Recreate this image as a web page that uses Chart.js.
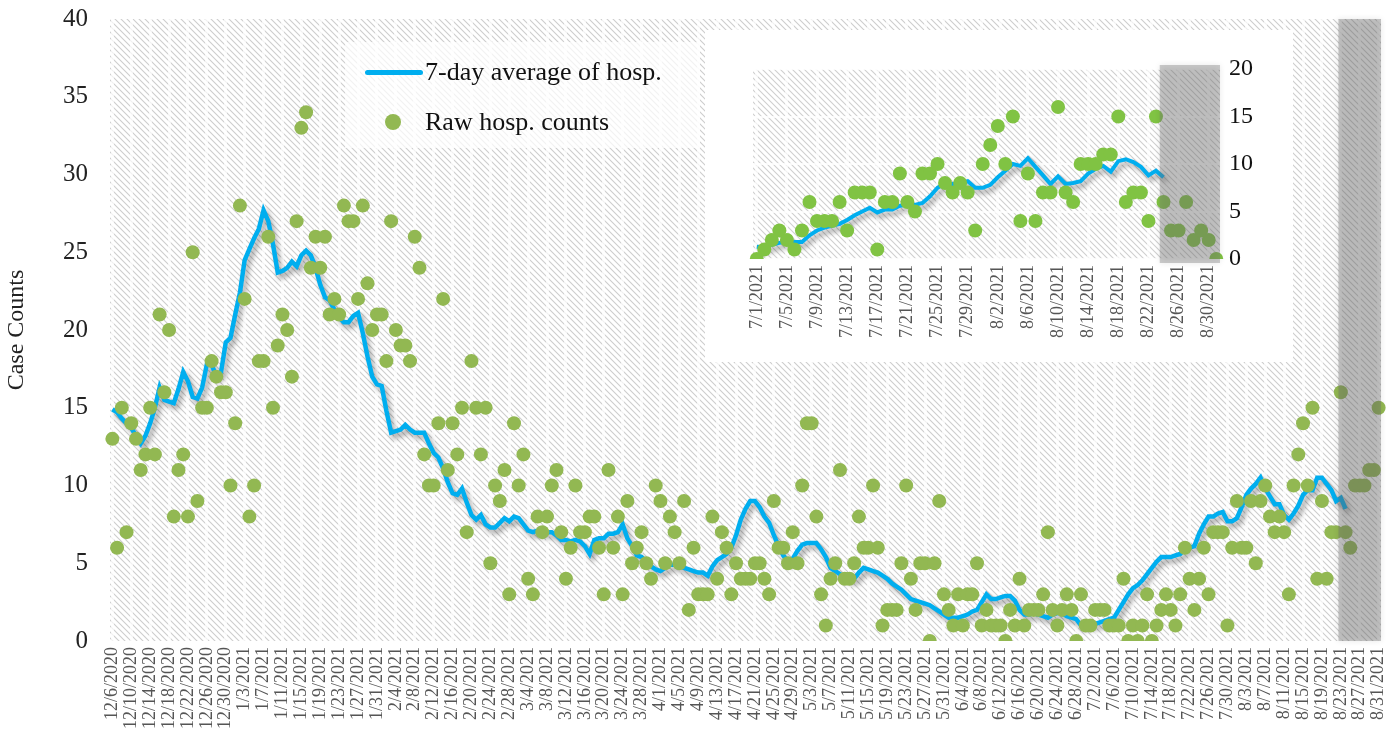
<!DOCTYPE html>
<html>
<head>
<meta charset="utf-8">
<script src="https://cdn.jsdelivr.net/npm/chart.js@4.4.1/dist/chart.umd.min.js"></script>
<style>
  html, body { margin: 0; padding: 0; background: #fff; }
  #wrap { position: relative; width: 1398px; height: 738px; overflow: hidden; font-family: "Liberation Serif", "DejaVu Serif", serif; }
  #mainChart { position: absolute; left: 0; top: 0; }
  #insetBox { position: absolute; left: 705px; top: 30px; width: 588px; height: 332px; background: #fff; }
  #legend { position: absolute; left: 345px; top: 42px; width: 355px; height: 106px; background: rgba(255,255,255,0.72); }
  .lg-line { position: absolute; left: 20px; top: 28px; width: 58px; height: 5px; border-radius: 3px; background: #00aeef; }
  .lg-dot { position: absolute; left: 40px; top: 72px; width: 16px; height: 16px; border-radius: 50%; background: #92b852; }
  .lg-text { position: absolute; left: 80px; font-size: 26px; line-height: 30px; color: #111; white-space: nowrap; }
</style>
</head>
<body>
<div id="wrap">
  <canvas id="mainChart" width="1398" height="738"></canvas>
  <div id="legend">
    <div class="lg-line"></div>
    <div class="lg-text" style="top:15px">7-day average of hosp.</div>
    <div class="lg-dot"></div>
    <div class="lg-text" style="top:65px">Raw hosp. counts</div>
  </div>
  <div id="insetBox"><canvas id="insetChart" width="588" height="332"></canvas></div>
</div>
<script>
// Daily hospitalisations, 12/6/2020 - 8/31/2021
const mainStart = [2020, 12, 6];
const mainDays = 269;

const rawCounts = [
  13, 6, 15, 7, 14, 13, 11, 12, 15, 12,
  21, 16, 20, 8, 11, 12, 8, 25, 9, 15,
  15, 18, 17, 16, 16, 10, 14, 28, 22, 8,
  10, 18, 18, 26, 15, 19, 21, 20, 17, 27,
  33, 34, 24, 26, 24, 26, 21, 22, 21, 28,
  27, 27, 22, 28, 23, 20, 21, 21, 18, 27,
  20, 19, 19, 18, 26, 24, 12, 10, 10, 14,
  22, 11, 14, 12, 15, 7, 18, 15, 12, 15,
  5, 10, 9, 11, 3, 14, 10, 12, 4, 3,
  8, 7, 8, 10, 11, 7, 4, 6, 10, 7,
  7, 8, 8, 6, 3, 11, 6, 8, 3, 9,
  5, 6, 7, 5, 4, 10, 9, 5, 8, 7,
  5, 9, 2, 6, 3, 3, 3, 8, 4, 7,
  6, 3, 5, 4, 4, 4, 5, 5, 4, 3,
  9, 6, 6, 5, 7, 5, 10, 14, 14, 8,
  3, 1, 4, 5, 11, 4, 4, 5, 8, 6,
  6, 10, 6, 1, 2, 2, 2, 5, 10, 4,
  2, 5, 5, 0, 5, 9, 3, 2, 1, 3,
  1, 3, 3, 5, 1, 2, 1, 1, 1, 0,
  2, 1, 4, 1, 2, 2, 2, 3, 7, 2,
  1, 2, 3, 2, 0, 3, 1, 1, 2, 2,
  2, 1, 1, 1, 4, 0, 1, 0, 1, 3,
  0, 1, 2, 3, 2, 1, 3, 6, 4, 2,
  4, 6, 3, 7, 7, 7, 1, 6, 9, 6,
  6, 9, 5, 9, 10, 8, 7, 8, 7, 3,
  10, 12, 14, 10, 15, 4, 9, 4, 7, 7,
  16, 7, 6, 10, 10, 10, 11, 11, 15
];

const avg7 = [
  14.9, 14.7, 14.3, 14.0, 13.7, 13.2, 12.7, 13.2, 14.0, 15.0,
  16.3, 15.5, 15.4, 15.3, 16.2, 17.3, 16.7, 15.7, 15.6, 16.3,
  17.8, 17.8, 17.0, 17.3, 19.2, 19.5, 21.0, 22.4, 24.5, 25.2,
  25.9, 26.5, 27.7, 27.0, 25.5, 23.7, 23.8, 24.0, 24.4, 24.1,
  24.8, 25.1, 24.8, 24.0, 22.9, 22.1, 21.9, 21.3, 20.8, 20.5,
  20.5, 20.9, 21.1, 19.8, 18.3, 17.0, 16.5, 16.4, 14.8, 13.4,
  13.5, 13.6, 13.9, 13.6, 13.4, 13.4, 13.4, 12.7, 12.1, 11.8,
  11.1, 10.2, 9.5, 9.4, 9.8, 8.9, 8.1, 7.8, 8.1, 7.5,
  7.3, 7.3, 7.6, 7.9, 7.7, 8.0, 7.9, 7.5, 7.1, 7.0,
  7.1, 7.0, 7.0, 7.0, 6.8, 6.5, 6.5, 6.4, 6.5, 6.4,
  6.1, 5.6, 6.5, 6.6, 6.6, 6.9, 6.9, 7.0, 7.5, 6.6,
  6.1, 5.5, 5.4, 5.1, 4.8, 4.6, 4.5, 4.7, 4.9, 4.9,
  4.8, 4.7, 4.6, 4.5, 4.4, 4.4, 4.2, 4.8, 5.2, 5.4,
  5.6, 6.0, 6.8, 7.8, 8.5, 9.0, 9.0, 8.6, 8.0, 7.6,
  6.8, 6.1, 5.5, 5.1, 5.3, 5.8, 6.2, 6.3, 6.3, 6.3,
  5.9, 5.4, 4.7, 4.5, 4.3, 4.1, 4.0, 4.0, 4.4, 4.7,
  4.6, 4.5, 4.4, 4.2, 4.0, 3.7, 3.5, 3.3, 3.0, 2.7,
  2.6, 2.5, 2.4, 2.3, 2.1, 1.9, 1.7, 1.5, 1.5, 1.5,
  1.6, 1.7, 1.9, 2.0, 2.5, 3.0, 2.7, 2.7, 2.8, 2.9,
  2.9, 2.6, 2.0, 1.7, 1.7, 1.8, 1.7, 1.6, 1.5, 1.7,
  1.8, 1.8, 1.6, 1.5, 1.4, 1.0, 1.1, 1.1, 1.1, 1.2,
  1.3, 1.4, 1.5, 2.0, 2.5, 3.0, 3.4, 3.6, 3.9, 4.3,
  4.7, 5.1, 5.4, 5.4, 5.4, 5.5, 5.6, 5.9, 6.0, 6.1,
  6.9, 7.5, 8.0, 8.0, 8.2, 8.3, 7.7, 7.7, 7.9, 8.6,
  9.4, 9.8, 10.1, 10.5, 9.8, 9.3, 8.8, 8.8, 8.1, 7.8,
  8.2, 8.7, 9.4, 9.7, 9.7, 10.5, 10.5, 10.1, 9.7, 9.0,
  9.2, 8.5, null, null, null, null, null, null, null
];

// Inset: 7/1/2021 - 8/31/2021
const insetStart = [2021, 7, 1];
const insetDays = 62;

const insetRaw = [
  0, 1, 2, 3, 2, 1, 3, 6, 4, 4,
  4, 6, 3, 7, 7, 7, 1, 6, 6, 9,
  6, 5, 9, 9, 10, 8, 7, 8, 7, 3,
  10, 12, 14, 10, 15, 4, 9, 4, 7, 7,
  16, 7, 6, 10, 10, 10, 11, 11, 15, 6,
  7, 7, 4, 15, 6, 3, 3, 6, 2, 3,
  2, 0
];

const insetAvg = [
  1.3, 1.2, 1.5, 1.7, 1.9, 1.8, 1.8, 2.5, 3.0, 3.3,
  3.5, 3.7, 4.1, 4.6, 5.0, 5.4, 4.9, 5.2, 5.2, 5.6,
  5.7, 5.7, 5.9, 6.6, 7.5, 8.0, 7.9, 8.0, 8.2, 7.5,
  7.5, 7.8, 8.6, 9.3, 10.0, 9.8, 10.6, 9.7, 8.8, 7.9,
  8.7, 7.9, 8.0, 8.2, 9.0, 9.5, 9.8, 9.2, 10.3, 10.5,
  10.2, 9.7, 8.8, 9.3, 8.6, null, null, null, null, null,
  null, null
];

const mainYTicks = [0, 5, 10, 15, 20, 25, 30, 35, 40];
const insetYTicks = [0, 5, 10, 15, 20];
const labelEvery = 4;
const mainShadeFrom = 260;   // 8/23/2021
const insetShadeFrom = 54;   // 8/24/2021

function dayLabels(start, n) {
  const out = [];
  const dt = new Date(start[0], start[1] - 1, start[2]);
  for (let i = 0; i < n; i++) {
    out.push((dt.getMonth() + 1) + '/' + dt.getDate() + '/' + dt.getFullYear());
    dt.setDate(dt.getDate() + 1);
  }
  return out;
}

const mainLabels = dayLabels(mainStart, mainDays);
const insetLabels = dayLabels(insetStart, insetDays);

function makeHatch(ctx, color, size) {
  const c = document.createElement('canvas');
  c.width = size; c.height = size;
  const g = c.getContext('2d');
  g.fillStyle = '#fff';
  g.fillRect(0, 0, size, size);
  g.strokeStyle = color;
  g.lineWidth = 1.1;
  g.beginPath();
  g.moveTo(0, 0); g.lineTo(size, size);
  g.moveTo(-1, size - 1); g.lineTo(1, size + 1);
  g.moveTo(size - 1, -1); g.lineTo(size + 1, 1);
  g.stroke();
  return ctx.createPattern(c, 'repeat');
}

// hatched plot background
const hatchPlugin = {
  id: 'hatch',
  beforeDraw(chart, args, opts) {
    const { ctx, chartArea: a } = chart;
    ctx.save();
    ctx.fillStyle = makeHatch(ctx, opts.color, opts.size);
    ctx.fillRect(a.left, a.top, a.right - a.left, a.bottom - a.top);
    ctx.restore();
  }
};

// grey block over the last days
const shadePlugin = {
  id: 'shade',
  afterDatasetsDraw(chart, args, opts) {
    const { ctx, chartArea: a, scales } = chart;
    const x = scales.x;
    const step = x.getPixelForValue(1) - x.getPixelForValue(0);
    const x0 = x.getPixelForValue(opts.from) - step / 2;
    ctx.save();
    ctx.shadowColor = 'rgba(0,0,0,0.25)';
    ctx.shadowBlur = 6;
    ctx.fillStyle = opts.color;
    ctx.fillRect(x0, a.top - opts.extend, a.right - x0, a.bottom - a.top + opts.extend * 2);
    ctx.restore();
  }
};

// soft drop shadow under the average line
const shadowPlugin = {
  id: 'lineShadow',
  beforeDatasetDraw(chart, args) {
    if (!chart.data.datasets[args.index].shadow) return;
    const ctx = chart.ctx;
    ctx.save();
    ctx.shadowColor = 'rgba(0,0,0,0.35)';
    ctx.shadowBlur = 5;
    ctx.shadowOffsetX = 3;
    ctx.shadowOffsetY = 4;
  },
  afterDatasetDraw(chart, args) {
    if (!chart.data.datasets[args.index].shadow) return;
    chart.ctx.restore();
  }
};

const serif = '"Liberation Serif", "DejaVu Serif", serif';

function noPad(s) {
  s.paddingTop = 0; s.paddingBottom = 0; s.paddingLeft = 0; s.paddingRight = 0;
}

function xAxis(labels, height, fontSize) {
  return {
    type: 'category',
    offset: true,
    afterFit: s => { s.height = height; noPad(s); },
    border: { display: false },
    grid: {
      drawTicks: false,
      lineWidth: 3,
      color: c => (c.index % labelEvery === 0 ? 'rgba(255,255,255,0.7)' : 'rgba(0,0,0,0)')
    },
    ticks: {
      autoSkip: false,
      minRotation: 90,
      maxRotation: 90,
      padding: 6,
      color: '#555',
      font: { family: serif, size: fontSize },
      callback: (v, i) => (i % labelEvery === 0 ? labels[i] : '')
    }
  };
}

new Chart(document.getElementById('mainChart'), {
  type: 'line',
  data: {
    labels: mainLabels,
    datasets: [
      {
        label: 'Raw hosp. counts',
        data: rawCounts,
        showLine: false,
        pointRadius: 7,
        pointBorderWidth: 0,
        pointBackgroundColor: '#92b852',
        order: 0
      },
      {
        label: '7-day average of hosp.',
        data: avg7,
        borderColor: '#00aeef',
        borderWidth: 4.5,
        pointRadius: 0,
        tension: 0,
        shadow: true,
        order: 1
      }
    ]
  },
  options: {
    responsive: false,
    animation: false,
    devicePixelRatio: 1,
    layout: { padding: { top: 19, right: 17, left: 0, bottom: 0 } },
    plugins: {
      legend: { display: false },
      tooltip: { enabled: false },
      hatch: { color: '#cdcdcd', size: 6 },
      shade: { from: mainShadeFrom, color: 'rgba(110,110,110,0.38)', extend: 0 }
    },
    scales: {
      x: xAxis(mainLabels, 97, 18),
      y: {
        min: 0,
        max: 40,
        afterFit: s => { s.width = 110; noPad(s); },
        afterBuildTicks: s => { s.ticks = mainYTicks.map(v => ({ value: v })); },
        border: { display: false },
        grid: { display: false, drawTicks: false },
        ticks: { padding: 22, color: '#222', font: { family: serif, size: 25 } },
        title: {
          display: true,
          text: 'Case Counts',
          color: '#222',
          padding: { top: 2, bottom: 0 },
          font: { family: serif, size: 24 }
        }
      }
    }
  },
  plugins: [hatchPlugin, shadePlugin, shadowPlugin]
});

new Chart(document.getElementById('insetChart'), {
  type: 'line',
  data: {
    labels: insetLabels,
    datasets: [
      {
        label: 'Raw hosp. counts',
        data: insetRaw,
        showLine: false,
        pointRadius: 7,
        pointBorderWidth: 0,
        pointBackgroundColor: '#80c343',
        order: 0
      },
      {
        label: '7-day average of hosp.',
        data: insetAvg,
        borderColor: '#00aeef',
        borderWidth: 4,
        pointRadius: 0,
        tension: 0,
        shadow: true,
        order: 1
      }
    ]
  },
  options: {
    responsive: false,
    animation: false,
    devicePixelRatio: 1,
    layout: { padding: { top: 39, left: 48, right: 0, bottom: 0 } },
    plugins: {
      legend: { display: false },
      tooltip: { enabled: false },
      hatch: { color: '#cfcfcf', size: 6 },
      shade: { from: insetShadeFrom, color: 'rgba(120,120,120,0.38)', extend: 4 }
    },
    scales: {
      x: xAxis(insetLabels, 103, 18),
      y: {
        position: 'right',
        min: 0,
        max: 20,
        afterFit: s => { s.width = 73; noPad(s); },
        afterBuildTicks: s => { s.ticks = insetYTicks.map(v => ({ value: v })); },
        border: { display: false },
        grid: { drawTicks: false, lineWidth: 2, color: 'rgba(255,255,255,0.8)' },
        ticks: { padding: 9, color: '#111', font: { family: serif, size: 24 } }
      }
    }
  },
  plugins: [hatchPlugin, shadePlugin, shadowPlugin]
});
</script>
</body>
</html>
